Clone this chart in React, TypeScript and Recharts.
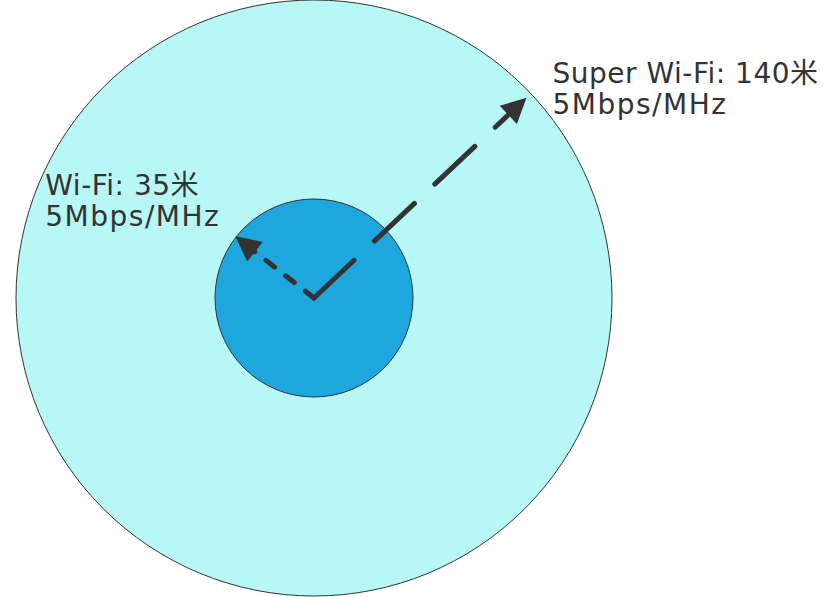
import { ScatterChart, Scatter, XAxis, YAxis } from 'recharts'

// coverage rings: inner = Wi-Fi, outer = Super Wi-Fi
const RINGS = ['Wi-Fi', 'Super Wi-Fi']
const RANGE_M = [35, 140]
const RATE = ['5Mbps/MHz', '5Mbps/MHz']
// drawn radius in diagram units (the picture is not to scale)
const RADIUS = [0.99, 2.98]
// arrow direction (deg, counter-clockwise from +x) and length in diagram units
const ARROW_ANGLE = [141.9, 43.3]
const ARROW_LEN = [1.0, 2.92]

const FILLS = ['#1EA7DE', '#B7F7F6']
const DASH = ['11 14', '55 28']
const LABEL_OFFSET = [
  { dx: -190, dy: -41 },
  { dx: 26, dy: -15 },
]

const W = 830
const H = 597
const UNIT = 100 // px per diagram unit
const CX = 314
const CY = 298
const X_DOMAIN = [-CX / UNIT, (W - CX) / UNIT]
const Y_DOMAIN = [-(H - CY) / UNIT, CY / UNIT]
const HEAD = 25
const INK = '#333333'
const FONT = "'DejaVu Sans', 'Noto Sans CJK SC', sans-serif"
const FONT_SIZE = 28
const LINE_GAP = 31

const rad = (d: number) => (d * Math.PI) / 180

// outer ring first so the inner one sits on top
const circleData = [1, 0].map((i) => ({ x: 0, y: 0, r: RADIUS[i], fill: FILLS[i] }))

const shafts = RINGS.map((_, i) => {
  const a = rad(ARROW_ANGLE[i])
  const len = ARROW_LEN[i] - (HEAD * 0.7) / UNIT
  return [
    { x: 0, y: 0 },
    { x: len * Math.cos(a), y: len * Math.sin(a) },
  ]
})

const tips = RINGS.map((name, i) => {
  const a = rad(ARROW_ANGLE[i])
  return {
    x: ARROW_LEN[i] * Math.cos(a),
    y: ARROW_LEN[i] * Math.sin(a),
    angle: ARROW_ANGLE[i],
    line1: `${name}: ${RANGE_M[i]}米`,
    line2: RATE[i],
    idx: i,
  }
})

const CircleShape = (props: any) => {
  const { cx, cy, payload } = props
  return <circle cx={cx} cy={cy} r={payload.r * UNIT} fill={payload.fill} stroke={INK} strokeWidth={1} />
}

const HeadShape = (props: any) => {
  const { cx, cy, payload } = props
  const off = LABEL_OFFSET[payload.idx]
  return (
    <g>
      <polygon
        points={`0,0 ${-HEAD},${-HEAD / 2} ${-HEAD},${HEAD / 2}`}
        fill={INK}
        transform={`translate(${cx},${cy}) rotate(${-payload.angle})`}
      />
      <text x={cx + off.dx} y={cy + off.dy} fill={INK} fontSize={FONT_SIZE} fontFamily={FONT} letterSpacing={0.5}>
        {payload.line1}
      </text>
      <text
        x={cx + off.dx}
        y={cy + off.dy + LINE_GAP}
        fill={INK}
        fontSize={FONT_SIZE}
        fontFamily={FONT}
        letterSpacing={1.5}
      >
        {payload.line2}
      </text>
    </g>
  )
}

export default function App() {
  return (
    <div style={{ position: 'absolute', left: 0, top: 0, background: '#fff' }}>
      <ScatterChart width={W} height={H} margin={{ top: 0, right: 0, bottom: 0, left: 0 }}>
        <XAxis type="number" dataKey="x" domain={X_DOMAIN} allowDataOverflow hide />
        <YAxis type="number" dataKey="y" domain={Y_DOMAIN} allowDataOverflow hide />
        <Scatter data={circleData} shape={CircleShape} isAnimationActive={false} />
        {shafts.map((d, i) => (
          <Scatter
            key={RINGS[i]}
            data={d}
            line={{ stroke: INK, strokeWidth: 5, strokeDasharray: DASH[i], strokeLinecap: 'round' }}
            shape={() => <g />}
            isAnimationActive={false}
          />
        ))}
        <Scatter data={tips} shape={HeadShape} isAnimationActive={false} />
      </ScatterChart>
    </div>
  )
}
